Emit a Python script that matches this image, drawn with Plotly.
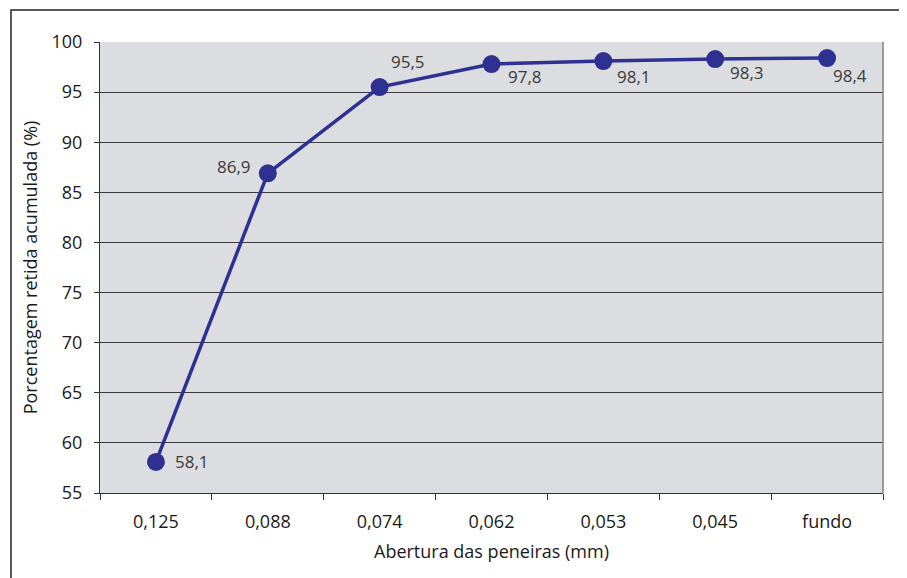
import plotly.graph_objects as go

categories = ["0,125", "0,088", "0,074", "0,062", "0,053", "0,045", "fundo"]
values = [58.1, 86.9, 95.5, 97.8, 98.1, 98.3, 98.4]
value_labels = ["58,1", "86,9", "95,5", "97,8", "98,1", "98,3", "98,4"]
y_ticks = [55, 60, 65, 70, 75, 80, 85, 90, 95, 100]

# label offsets in pixels (styling)
label_dx = [36, -34, 28, 33, 31, 32, 23]
label_dy = [0, 7, 26, -12, -15, -13, -17]

FONT = "Open Sans"
LINE_COLOR = "#2e3192"

# the page body has an 8px margin; compensate so the chart lands where the reference is
PAGE_OFF = 8
W, H = 907 - PAGE_OFF, 578 - PAGE_OFF
L, T = 100 - PAGE_OFF, 42 - PAGE_OFF
R = W - (883 - PAGE_OFF)
B = H - (493 - PAGE_OFF)
PW, PH = W - L - R, H - T - B

fig = go.Figure()
fig.add_trace(go.Scatter(
    x=categories, y=values, mode="lines+markers",
    line=dict(color=LINE_COLOR, width=3.5),
    marker=dict(color=LINE_COLOR, size=18),
    hoverinfo="skip", showlegend=False,
))

for c, v, t, dx, dy in zip(categories, values, value_labels, label_dx, label_dy):
    fig.add_annotation(x=c, y=v, text=t, showarrow=False,
                       xshift=dx, yshift=dy,
                       font=dict(family=FONT, size=17, color="#3a3a3a"))

fig.update_layout(
    width=W, height=H,
    margin=dict(l=L, r=R, t=T, b=B),
    paper_bgcolor="white",
    plot_bgcolor="#dcdde0",
    font=dict(family=FONT, size=18, color="#1a1a1a"),
    showlegend=False,
)

fig.update_xaxes(
    type="category",
    tickson="boundaries",
    ticks="outside", ticklen=6, tickcolor="#333333", tickwidth=1,
    ticklabelstandoff=12,
    showgrid=False,
    showline=True, linecolor="#333333", linewidth=1,
    mirror=False,
    tickfont=dict(family=FONT, size=18, color="#1a1a1a"),
    title=dict(text="Abertura das peneiras (mm)", standoff=13,
               font=dict(family=FONT, size=18, color="#1a1a1a")),
    range=[-0.5, 6.5],
)

fig.update_yaxes(
    range=[55, 100],
    tickvals=y_ticks,
    ticks="outside", ticklen=5, tickcolor="#333333", tickwidth=1,
    ticklabelstandoff=8,
    showgrid=True, gridcolor="#3a3a3a", gridwidth=1,
    showline=True, linecolor="#333333", linewidth=1,
    zeroline=False,
    tickfont=dict(family=FONT, size=18, color="#1a1a1a"),
    title=dict(text="Porcentagem retida acumulada (%)", standoff=9,
               font=dict(family=FONT, size=18, color="#1a1a1a")),
)

# right border of the plot area
fig.add_shape(type="line", xref="paper", yref="paper", x0=1, x1=1, y0=0, y1=1,
              line=dict(color="#808080", width=1.5))
# outer frame of the figure (page x 11..904, top at y 10, bottom beyond the window)
fig.add_shape(type="rect", xref="paper", yref="paper",
              x0=(11 - 100) / PW, x1=(904 - 100) / PW,
              y0=-0.3, y1=(493 - 10) / PH,
              line=dict(color="#222222", width=1.5))

fig.write_html("out.html")
